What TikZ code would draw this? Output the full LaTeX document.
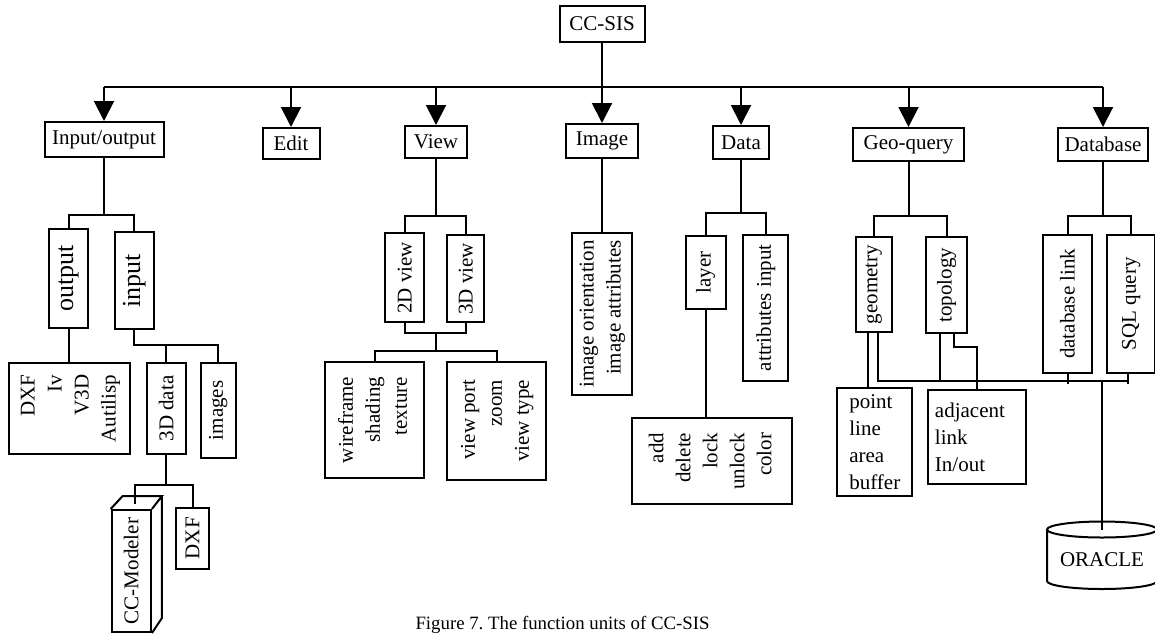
\documentclass[tikz,border=0pt]{standalone}
\usepackage{fontspec}
\usepackage{graphicx}
\setmainfont{Liberation Serif}
\usetikzlibrary{arrows.meta}
% rotated labels: single line, and several right-aligned lines
\newcommand\uprot[1]{\rotatebox{90}{#1}}
\newcommand\uplines[1]{\rotatebox{90}{\begin{tabular}{@{}r@{}}#1\end{tabular}}}
\tikzset{
  ln/.style={line width=2pt},
  bx/.style={draw, line width=2pt, inner sep=0pt, align=center},
  sz/.style 2 args={minimum width=#1pt, minimum height=#2pt},
  arr/.style={ln, -{Triangle[length=20pt,width=20pt]}},
  big/.style={font=\fontsize{26}{30}\selectfont},
  every node/.style={font=\fontsize{21}{27}\selectfont}
}
\begin{document}
\begin{tikzpicture}[x=1pt, y=-1pt]
\path[use as bounding box, fill=white] (0,0) rectangle (1155,633);

% top level
\node[bx, sz={85}{36}] (root) at (602,24) {CC-SIS};
\node[bx, sz={119}{35}] (io) at (104,139.5) {Input/output};
\node[bx, sz={57}{31}] (edit) at (291,143.5) {Edit};
\node[bx, sz={62}{32}] (view) at (436,142) {View};
\node[bx, sz={72}{34}] (image) at (602,141) {Image};
\node[bx, sz={56}{33}] (data) at (741,142.5) {Data};
\node[bx, sz={111}{33}] (geo) at (908.5,144.5) {Geo-query};
\node[bx, sz={90}{33}] (dbase) at (1103,144.5) {Database};

\coordinate (bus) at (0,87);
\draw[ln] (root.south) -- (root.south |- bus);
\draw[ln] (io.north |- bus) -- (dbase.north |- bus);
\foreach \n in {io,edit,view,image,data,geo,dbase}
  \draw[arr] (\n.north |- bus) -- (\n.north);

% Input/output branch
\node[bx, big, sz={38.4}{98.7}] (out) at (68.5,278.4) {\uprot{output}};
\node[bx, big, sz={38.7}{97}] (in) at (134.4,280.5) {\uprot{input}};
\draw[ln] (io.south) -- ++(0,57) coordinate (iob) -| (out.north) (iob) -| (in.north);

\node[bx, sz={120.7}{91}] (fmt) at (69.7,408.5) {\uplines{DXF\\Iv\\V3D\\Autilisp}};
\draw[ln] (out.south) -- (out.south |- fmt.north);
\node[bx, sz={38.7}{91}] (d3) at (166.3,408.5) {\uprot{3D data}};
\node[bx, sz={34.7}{94.7}] (imgs) at (218.3,410.3) {\uprot{images}};
\draw[ln] (in.south) -- ++(0,15) coordinate (inb) -| (d3.north) (inb) -| (imgs.north);

\node[bx, sz={39.3}{122}] (ccm) at (131.3,571) {\uprot{CC-Modeler}};
\draw[ln] (ccm.north west) -- ++(12,-13) -- ++(39.3,0) coordinate (ccmB)
  -- (ccm.north east) (ccmB) -- ++(0,122) -- (ccm.south east);
\node[bx, sz={33.6}{61.3}] (dxf2) at (192.5,538.3) {\uprot{DXF}};
\draw[ln] (d3.south) -- ++(0,30) coordinate (d3b) -| ([xshift=4pt,yshift=5pt]ccm.north)
  (d3b) -| (dxf2.north);

% View branch
\node[bx, sz={38.7}{89.3}] (v2) at (404.7,277.7) {\uprot{2D view}};
\node[bx, sz={36.7}{87.3}] (v3) at (465.7,278.7) {\uprot{3D view}};
\draw[ln] (view.south) -- ++(0,57) coordinate (vb) -| (v2.north) (vb) -| (v3.north);
\coordinate (vj) at (435.5,333.3);
\draw[ln] (v2.south) |- (vj) -| (v3.south);
\node[bx, sz={99}{116.6}] (wf) at (374.5,420) {\uplines{wireframe\\shading\\texture}};
\node[bx, sz={98.4}{118.3}] (vp) at (496.5,420.8) {\uplines{view port\\zoom\\view type}};
\draw[ln] (vj) -- ++(0,17.4) coordinate (vk) -| (wf.north) (vk) -| (vp.north);

% Image branch
\node[bx, sz={60}{162}] (imgt) at (601.7,314) {\uplines{image orientation\\image attributes}};
\draw[ln] (image.south) -- (image.south |- imgt.north);

% Data branch
\node[bx, sz={40}{73.3}] (layer) at (705.7,272.3) {\uprot{layer}};
\node[bx, sz={45}{145.7}] (attr) at (765.8,307.8) {\uprot{attributes input}};
\draw[ln] (data.south) -- ++(0,52.7) coordinate (dab) -| (layer.north) (dab) -| (attr.north);
\node[bx, sz={160.6}{86}] (ops) at (712,461.3) {\uplines{add\\delete\\lock\\unlock\\color}};
\draw[ln] (layer.south) -- (layer.south |- ops.north);

% Geo-query branch
\node[bx, sz={36}{94.4}] (geom) at (873.7,284.5) {\uprot{geometry}};
\node[bx, sz={41.6}{96}] (topo) at (946.5,285.3) {\uprot{topology}};
\draw[ln] (geo.south) -- ++(0,54) coordinate (gb) -| (geom.north) (gb) -| (topo.north);
\node[bx, sz={75}{108}, align=left] (prim) at (874.8,441.7) {point\\line\\area\\buffer};
\node[bx, text width=83.7pt, inner xsep=7.3pt, minimum height=94pt, align=left]
  (rel) at (976.8,437) {adjacent\\link\\In/out};

% Database branch
\node[bx, sz={48.4}{137.7}] (dbl) at (1067.5,303.8) {\uprot{database link}};
\node[bx, sz={47.7}{137.7}] (sql) at (1131.2,303.8) {\uprot{SQL query}};
\draw[ln] (dbase.south) -- ++(0,54) coordinate (dbb) -| (dbl.north) (dbb) -| (sql.north);

% shared link bus and its branches
\coordinate (qb) at (0,380.7);
\draw[ln] ([xshift=-6pt]geom.south) -- ([xshift=-6pt]geom.south |- prim.north);
\draw[ln] ([xshift=4pt]geom.south) |- ([xshift=-3pt]sql.south |- qb);
\draw[ln] ([xshift=-6.5pt]topo.south) -- ([xshift=-6.5pt]topo.south |- qb);
\draw[ln] ([xshift=7.5pt]topo.south) -- ++(0,12.7) -| (rel.north);
\draw[ln] (dbl.south) -- ++(0,10);
\draw[ln] ([xshift=-3pt]sql.south) -- ++(0,10);

% ORACLE store
\node (orc) at (1102,560) {ORACLE};
\coordinate (orctop) at (1102,529.5);
\draw[ln] (1047,529.5) -- (1047,581) arc[start angle=180, end angle=360, x radius=55pt, y radius=8pt] -- (1157,529.5);
\draw[ln] (orctop) ellipse [x radius=55pt, y radius=8pt];
\draw[ln] (orctop |- qb) -- (orctop);

% caption
\node[anchor=base west, font=\fontsize{18.8}{22}\selectfont] (cap) at (412,629.5)
  {Figure 7.\ The function units of CC-SIS};
\end{tikzpicture}
\end{document}
